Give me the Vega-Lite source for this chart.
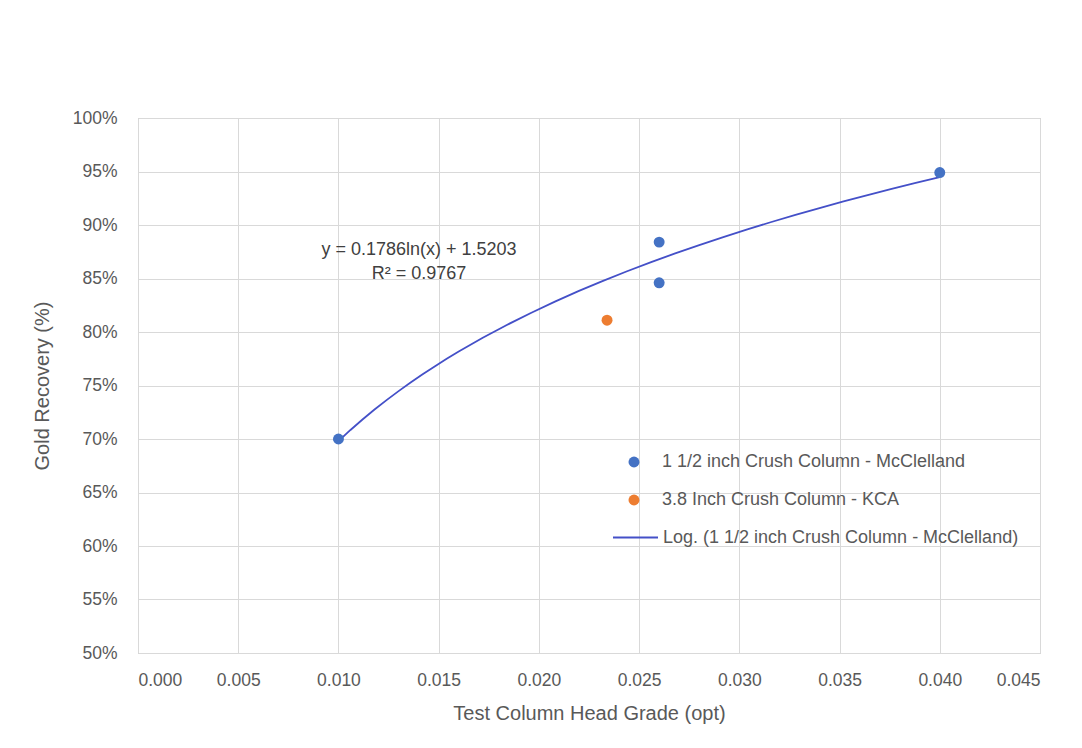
{
  "$schema": "https://vega.github.io/schema/vega-lite/v6.json",
  "autosize": {"type": "none"},
  "width": 902,
  "height": 535,
  "padding": {"left": 138, "top": 118, "right": 42, "bottom": 95},
  "background": "#ffffff",
  "config": {
    "font": "Liberation Sans",
    "view": {"stroke": "#bfbfbf", "strokeWidth": 1},
    "axis": {
      "grid": true,
      "gridColor": "#d9d9d9",
      "gridWidth": 1,
      "domain": false,
      "ticks": false,
      "labelColor": "#595959",
      "labelFontSize": 17.5,
      "titleColor": "#595959",
      "titleFontSize": 20,
      "titleFontWeight": "normal"
    }
  },
  "datasets": {
    "points": [
      {"x": 0.010, "y": 0.700, "series": "1 1/2 inch Crush Column - McClelland", "trend": "Log. (1 1/2 inch Crush Column - McClelland)"},
      {"x": 0.026, "y": 0.884, "series": "1 1/2 inch Crush Column - McClelland", "trend": "Log. (1 1/2 inch Crush Column - McClelland)"},
      {"x": 0.026, "y": 0.846, "series": "1 1/2 inch Crush Column - McClelland", "trend": "Log. (1 1/2 inch Crush Column - McClelland)"},
      {"x": 0.040, "y": 0.949, "series": "1 1/2 inch Crush Column - McClelland", "trend": "Log. (1 1/2 inch Crush Column - McClelland)"},
      {"x": 0.0234, "y": 0.811, "series": "3.8 Inch Crush Column - KCA"}
    ],
    "annotation": [
      {"x": 0.01402, "y": 0.8762}
    ]
  },
  "resolve": {"scale": {"color": "independent"}, "legend": {"color": "independent"}},
  "layer": [
    {
      "data": {"name": "points"},
      "transform": [
        {"filter": "datum.trend != null"},
        {"regression": "y", "on": "x", "method": "log", "groupby": ["trend"]}
      ],
      "mark": {"type": "line", "strokeWidth": 1.8},
      "encoding": {
        "x": {
          "field": "x", "type": "quantitative",
          "scale": {"domain": [0, 0.045], "nice": false, "zero": false},
          "axis": {"values": [0, 0.005, 0.01, 0.015, 0.02, 0.025, 0.03, 0.035, 0.04, 0.045], "format": ".3f", "labelPadding": 18, "title": "Test Column Head Grade (opt)", "titlePadding": 15}
        },
        "y": {
          "field": "y", "type": "quantitative",
          "scale": {"domain": [0.5, 1.0], "nice": false, "zero": false},
          "axis": {"values": [0.5, 0.55, 0.6, 0.65, 0.7, 0.75, 0.8, 0.85, 0.9, 0.95, 1.0], "format": ".0%", "labelPadding": 21, "title": "Gold Recovery (%)", "titlePadding": 20}
        },
        "color": {
          "field": "trend", "type": "nominal",
          "scale": {"range": ["#4450C8"]},
          "legend": {
            "title": null,
            "orient": "none",
            "legendX": 474,
            "legendY": 396,
            "symbolType": "stroke",
            "symbolSize": 2025,
            "symbolStrokeWidth": 1.8,
            "labelFontSize": 18,
            "labelColor": "#595959",
            "labelOffset": 4,
            "labelLimit": 500
          }
        }
      }
    },
    {
      "data": {"name": "points"},
      "mark": {"type": "point", "filled": true, "size": 120, "opacity": 1},
      "encoding": {
        "x": {"field": "x", "type": "quantitative"},
        "y": {"field": "y", "type": "quantitative"},
        "color": {
          "field": "series", "type": "nominal",
          "scale": {
            "domain": ["1 1/2 inch Crush Column - McClelland", "3.8 Inch Crush Column - KCA"],
            "range": ["#4472C4", "#ED7D31"]
          },
          "legend": {
            "title": null,
            "orient": "none",
            "legendX": 487,
            "legendY": 335,
            "symbolType": "circle",
            "symbolSize": 120,
            "symbolOpacity": 1,
            "labelFontSize": 18,
            "labelColor": "#595959",
            "labelOffset": 19,
            "rowPadding": 20,
            "labelLimit": 500
          }
        }
      }
    },
    {
      "data": {"name": "annotation"},
      "mark": {"type": "text", "fontSize": 18, "color": "#404040", "lineHeight": 24, "align": "center", "baseline": "middle"},
      "encoding": {
        "x": {"field": "x", "type": "quantitative"},
        "y": {"field": "y", "type": "quantitative"},
        "text": {"value": ["y = 0.1786ln(x) + 1.5203", "R² = 0.9767"]}
      }
    }
  ]
}
